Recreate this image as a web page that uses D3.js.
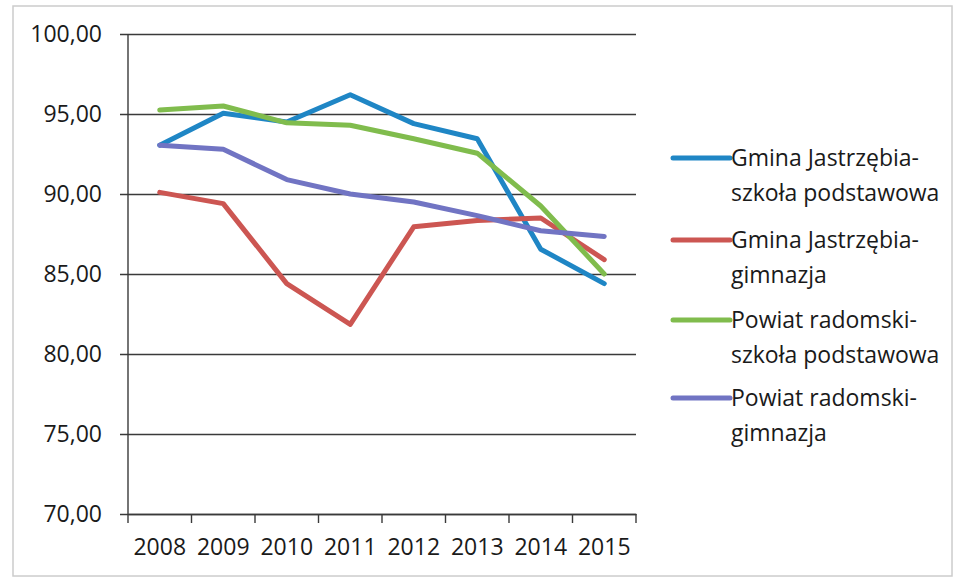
<!DOCTYPE html>
<html>
<head>
<meta charset="utf-8">
<script src="https://cdn.jsdelivr.net/npm/d3@7"></script>
<style>
  body { margin: 0; background: #fff; }
  text { font-family: "Open Sans", sans-serif; fill: #1a1a1a; }
</style>
</head>
<body>
<div id="chart"></div>
<script>
// categories and values
var years = ["2008", "2009", "2010", "2011", "2012", "2013", "2014", "2015"];
var yTicks = [70, 75, 80, 85, 90, 95, 100];

var gminaPodst = [93.05, 95.05, 94.5, 96.2, 94.4, 93.45, 86.55, 84.4];
var gminaGimn = [90.1, 89.4, 84.4, 81.85, 87.95, 88.35, 88.5, 85.9];
var powiatPodst = [95.25, 95.5, 94.45, 94.3, 93.45, 92.55, 89.25, 85.0];
var powiatGimn = [93.05, 92.8, 90.9, 90.0, 89.5, 88.65, 87.7, 87.35];

var seriesNames = [
  ["Gmina Jastrzębia-", "szkoła podstawowa"],
  ["Gmina Jastrzębia-", "gimnazja"],
  ["Powiat radomski-", "szkoła podstawowa"],
  ["Powiat radomski-", "gimnazja"]
];
var seriesValues = [gminaPodst, gminaGimn, powiatPodst, powiatGimn];
var colors = ["#1f86c5", "#cc5652", "#80bc4d", "#7174c3"];

// set the dimensions and margins of the graph
var W = 954, H = 580;
var margin = {top: 34, right: 320, bottom: 66, left: 128},
    width = 636 - margin.left,
    height = 514 - margin.top;

var x = d3.scaleBand().domain(years).range([0, width]);
var y = d3.scaleLinear().domain([70, 100]).range([height, 0]);

var svg = d3.select("#chart").append("svg")
    .attr("width", W)
    .attr("height", H);

// light frame round the chart
svg.append("rect")
    .attr("x", 13).attr("y", 6)
    .attr("width", 939).attr("height", 570)
    .attr("fill", "none")
    .attr("stroke", "#cccccc")
    .attr("stroke-width", 1.5);

var g = svg.append("g")
    .attr("transform", "translate(" + margin.left + "," + margin.top + ")");

// gridlines + y axis labels
var yAxis = g.append("g")
    .call(d3.axisLeft(y).tickValues(yTicks).tickSize(-width).tickPadding(26)
      .tickFormat(function(d) { return d3.format(".2f")(d).replace(".", ","); }));
yAxis.select(".domain").remove();
yAxis.selectAll(".tick line")
    .attr("x1", -8)
    .attr("stroke", "#3a3a3a")
    .attr("stroke-width", 1.4);
yAxis.selectAll("text")
    .style("font-size", "23px")
    .style("font-family", "'Open Sans', sans-serif")
    .attr("fill", "#1a1a1a");

// vertical axis line
g.append("line")
    .attr("x1", 0).attr("x2", 0)
    .attr("y1", 0).attr("y2", height)
    .attr("stroke", "#3a3a3a")
    .attr("stroke-width", 1.4);

// x axis with ticks on band edges
var xAxis = g.append("g")
    .attr("transform", "translate(0," + height + ")")
    .call(d3.axisBottom(x).tickSize(0).tickPadding(25));
xAxis.select(".domain").attr("stroke", "#3a3a3a").attr("stroke-width", 1.4);
xAxis.selectAll("text")
    .style("font-size", "23px")
    .style("font-family", "'Open Sans', sans-serif")
    .attr("fill", "#1a1a1a");

var edges = years.map(function(d) { return x(d); }).concat([width]);
g.selectAll(".xtick")
    .data(edges)
    .enter().append("line")
    .attr("class", "xtick")
    .attr("x1", function(d) { return d; })
    .attr("x2", function(d) { return d; })
    .attr("y1", height)
    .attr("y2", height + 9)
    .attr("stroke", "#3a3a3a")
    .attr("stroke-width", 1.4);

// lines
var line = d3.line()
    .x(function(d, i) { return x(years[i]) + x.bandwidth() / 2; })
    .y(function(d) { return y(d); });

seriesValues.forEach(function(vals, i) {
  g.append("path")
      .datum(vals)
      .attr("fill", "none")
      .attr("stroke", colors[i])
      .attr("stroke-width", 5)
      .attr("stroke-linejoin", "round")
      .attr("stroke-linecap", "round")
      .attr("d", line);
});

// legend
var legendY = [158, 240, 320, 398];
var legend = svg.append("g");
seriesNames.forEach(function(lines, i) {
  var ly = legendY[i];
  legend.append("line")
      .attr("x1", 673).attr("x2", 730)
      .attr("y1", ly).attr("y2", ly)
      .attr("stroke", colors[i])
      .attr("stroke-width", 5)
      .attr("stroke-linecap", "round");
  lines.forEach(function(t, j) {
    legend.append("text")
        .attr("x", 731)
        .attr("y", ly + j * 35)
        .attr("dy", "0.35em")
        .style("font-size", "23px")
        .text(t);
  });
});
</script>
</body>
</html>
